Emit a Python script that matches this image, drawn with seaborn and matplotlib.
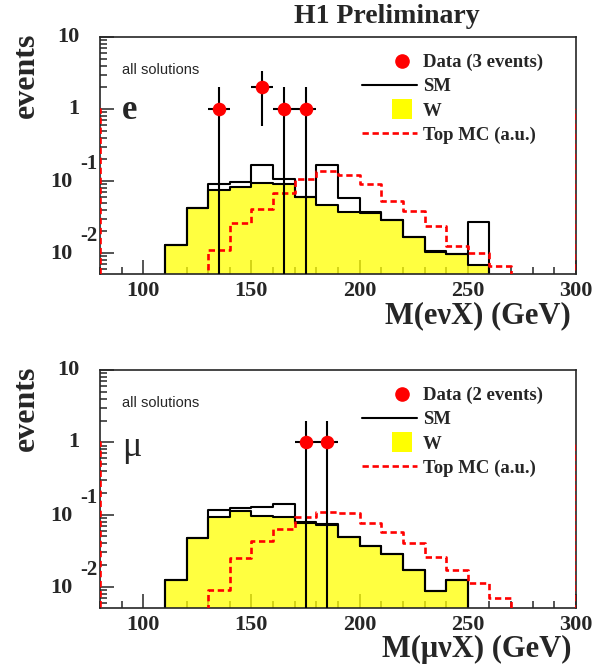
import numpy as np
import matplotlib
matplotlib.use("Agg")
import matplotlib.pyplot as plt
import seaborn as sns
from matplotlib.lines import Line2D
from matplotlib.legend_handler import HandlerLine2D
from matplotlib.ticker import MultipleLocator, LogLocator, NullFormatter

# 10 GeV bins, centres from 75 to 305 GeV (edge bins carry the overflow drawn on the frame)
mass = list(range(75, 310, 10))
edges = list(range(70, 320, 10))

# electron channel
w_e = [0, 0, 0, 0, 0.0128, 0.0418, 0.0748, 0.083, 0.094, 0.0895, 0.0605, 0.0464,
       0.0376, 0.0356, 0.0288, 0.0166, 0.0103, 0.0098, 0.0068, 0, 0, 0, 0, 0]
sm_e = [0, 0, 0, 0, 0.0128, 0.0418, 0.0895, 0.0974, 0.169, 0.108, 0.0605, 0.169,
        0.0574, 0.0376, 0.0288, 0.0166, 0.0105, 0.0098, 0.0273, 0, 0, 0, 0, 0]
top_e = [1, 0, 0, 0, 0, 0, 0.0111, 0.0265, 0.0404, 0.0672, 0.105, 0.138,
         0.120, 0.0904, 0.0527, 0.0384, 0.0238, 0.0124, 0.0100, 0.0067, 0, 0, 0, 1]
data_m_e = [135, 155, 165, 175]
data_n_e = [1, 2, 1, 1]

# muon channel
w_mu = [0, 0, 0, 0, 0.0125, 0.0471, 0.0918, 0.112, 0.0968, 0.0938, 0.0775, 0.072,
        0.0486, 0.0373, 0.0286, 0.0172, 0.0089, 0.0125, 0, 0, 0, 0, 0, 0]
sm_mu = [0, 0, 0, 0, 0.0125, 0.0471, 0.116, 0.122, 0.129, 0.139, 0.080, 0.0741,
         0.0486, 0.0373, 0.0286, 0.0172, 0.0089, 0.0125, 0, 0, 0, 0, 0, 0]
top_mu = [1, 0, 0, 0, 0, 0, 0.0091, 0.0249, 0.0437, 0.0627, 0.0938, 0.110,
          0.104, 0.0775, 0.0582, 0.041, 0.0263, 0.0172, 0.0112, 0.0070, 0, 0, 0, 1]
data_m_mu = [175, 185]
data_n_mu = [1, 1]

ytick_vals = [10, 1, 0.1, 0.01]
ytick_base = ["10", "1", "10", "10"]
ytick_exp = ["", "", "-1", "-2"]

sns.set_style("ticks")
plt.rcParams["font.family"] = ["Liberation Serif", "DejaVu Serif"]
plt.rcParams["font.weight"] = "bold"

YELLOW = "#ffff00"
RED = "#ff0000"


class RightMarker(HandlerLine2D):
    # legend marker sits in the right part of the handle, like ROOT
    def get_xdata(self, legend, xdescent, ydescent, width, height, fontsize):
        xd = [-xdescent + 0.46 * width, -xdescent + width]
        return xd, xd


def draw_panel(ax, w, sm, top, dm, dn, nevents, channel, xlabel):
    sns.histplot(x=mass, weights=w, bins=edges, element="step", fill=True,
                 color=YELLOW, edgecolor="black", linewidth=1.5, ax=ax)
    sns.histplot(x=mass, weights=sm, bins=edges, element="step", fill=False,
                 color="black", linewidth=1.5, ax=ax)
    sns.histplot(x=mass, weights=top, bins=edges, element="step", fill=False,
                 color=RED, linewidth=1.9, dashes=(2.4, 1.4), zorder=3, ax=ax)
    ax.errorbar(dm, dn, yerr=np.sqrt(dn), xerr=5, fmt="none", ecolor="black",
                elinewidth=1.5, capsize=0, zorder=4)
    sns.scatterplot(x=dm, y=dn, color=RED, s=95, linewidth=0, zorder=5, ax=ax)

    ax.set_yscale("log")
    ax.set_xlim(80, 300)
    ax.set_ylim(0.0051, 10)
    ax.xaxis.set_major_locator(MultipleLocator(50))
    ax.xaxis.set_minor_locator(MultipleLocator(10))
    ax.set_yticks(ytick_vals)
    ax.yaxis.set_minor_locator(LogLocator(base=10, subs=np.arange(2, 10)))
    ax.yaxis.set_minor_formatter(NullFormatter())
    ax.tick_params(which="both", direction="in", top=False, right=False,
                   width=1.1, labelleft=False, labelsize=16, pad=5)
    ax.tick_params(which="major", length=10)
    ax.tick_params(which="minor", length=5)
    for lab in ax.get_xticklabels():
        lab.set_fontweight("bold")
    for s in ax.spines.values():
        s.set_visible(True)
        s.set_linewidth(1.2)

    # ROOT-like y labels: 10, 1, 10^-1, 10^-2
    for v, b, e in zip(ytick_vals, ytick_base, ytick_exp):
        if e:
            ax.annotate(b, xy=(0, v), xycoords=("axes fraction", "data"),
                        xytext=(-20, -1), textcoords="offset points",
                        ha="right", va="center", fontsize=16, fontweight="bold")
            ax.annotate(e, xy=(0, v), xycoords=("axes fraction", "data"),
                        xytext=(-14.5, 12), textcoords="offset points",
                        ha="left", va="center", fontsize=15, fontweight="bold")
        else:
            ax.annotate(b, xy=(0, v), xycoords=("axes fraction", "data"),
                        xytext=(-14.5, 0), textcoords="offset points",
                        ha="right", va="center", fontsize=16, fontweight="bold")

    ax.set_ylabel("events", fontsize=23, fontweight="bold", loc="top")
    ax.yaxis.set_label_coords(-0.125, 1.02)
    ax.set_xlabel(xlabel, fontsize=22, fontweight="bold", loc="right")
    ax.xaxis.set_label_coords(0.99, -0.115)

    ax.text(0.046, 0.86, "all solutions", transform=ax.transAxes,
            family="Liberation Sans", fontweight="normal", fontsize=10.5,
            va="center", ha="left")
    ax.text(0.046, channel[1], channel[0], transform=ax.transAxes,
            fontsize=channel[2], fontweight=channel[3], va="baseline", ha="left")

    dot = Line2D([], [], marker="o", color=RED, linestyle="none", markersize=9.5)
    box = Line2D([], [], marker="s", color=YELLOW, linestyle="none", markersize=14.5,
                 markeredgewidth=0)
    handles = [dot, Line2D([], [], color="black", linewidth=1.5), box,
               Line2D([], [], color=RED, linewidth=1.9, dashes=(2.4, 1.4))]
    labels = [f"Data ({nevents} events)", "SM", "W", "Top MC (a.u.)"]
    leg = ax.legend(handles, labels, loc="upper left", bbox_to_anchor=(0.55, 0.928),
                    frameon=False, borderpad=0, borderaxespad=0, fontsize=13.5,
                    handlelength=2.93, handletextpad=0.32, labelspacing=0.37,
                    handler_map={dot: RightMarker(), box: RightMarker()})
    for t in leg.get_texts():
        t.set_fontweight("bold")


fig = plt.figure(figsize=(5.95, 6.7), dpi=100)
ax1 = fig.add_axes([0.168, 0.591, 0.800, 0.3537])
ax2 = fig.add_axes([0.168, 0.0925, 0.800, 0.3553])

draw_panel(ax1, w_e, sm_e, top_e, data_m_e, data_n_e, 3,
           ("e", 0.655, 25, "bold"), "M(e\u03bdX) (GeV)")
draw_panel(ax2, w_mu, sm_mu, top_mu, data_m_mu, data_n_mu, 2,
           ("\u03bc", 0.64, 26, "normal"), "M(\u03bc\u03bdX) (GeV)")

fig.text(0.65, 0.976, "H1 Preliminary", ha="center", va="center",
         fontsize=20, fontweight="bold")

fig.savefig("out.png", dpi=100)
